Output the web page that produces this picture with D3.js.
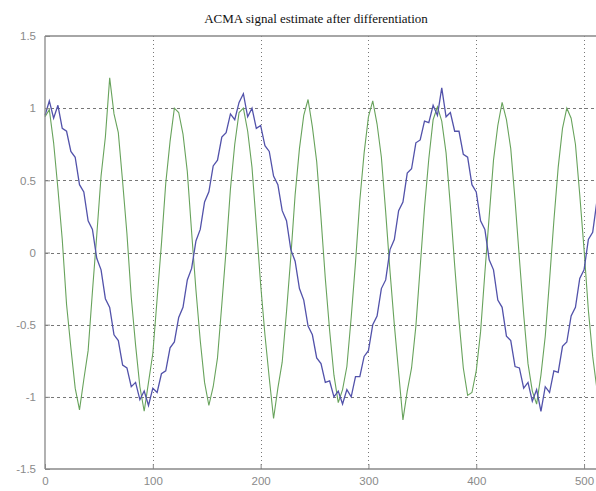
<!DOCTYPE html>
<html>
<head>
<meta charset="utf-8">
<script src="https://cdn.jsdelivr.net/npm/d3@7"></script>
<style>
  body { margin: 0; background: #fff; }
  svg { display: block; }
  .tick-label { font-family: "Liberation Sans", Arial, sans-serif; font-size: 11.5px; fill: #8a8a8a; }
  .title { font-family: "Liberation Serif", "Times New Roman", serif; font-size: 13px; fill: #111; }
</style>
</head>
<body>
<svg id="chart"></svg>
<script>
const TITLE = "ACMA signal estimate after differentiation";
const X_STEP = 4; // samples are read every 4 points along x
const X_TICKS = [0, 100, 200, 300, 400, 500];
const Y_TICKS = [-1.5, -1, -0.5, 0, 0.5, 1, 1.5];
const X_TICK_LABELS = ["0", "100", "200", "300", "400", "500"];
const Y_TICK_LABELS = ["-1.5", "-1", "-0.5", "0", "0.5", "1", "1.5"];

// slow component (blue) at x = 0, 4, 8, ...
const blueValues = [
  0.95, 1.05, 0.93, 1.02, 0.86, 0.84, 0.70, 0.66, 0.47, 0.42,
  0.22, 0.16, -0.04, -0.12, -0.32, -0.38, -0.57, -0.61, -0.78, -0.80,
  -0.93, -0.90, -1.02, -0.96, -1.06, -0.94, -0.97, -0.84, -0.82, -0.66,
  -0.62, -0.45, -0.38, -0.19, -0.11, 0.08, 0.16, 0.35, 0.42, 0.60,
  0.64, 0.80, 0.83, 0.96, 0.92, 1.04, 1.10, 0.94, 1.00, 0.86,
  0.88, 0.74, 0.70, 0.53, 0.47, 0.29, 0.22, 0.02, -0.06, -0.25,
  -0.33, -0.51, -0.57, -0.73, -0.77, -0.90, -0.89, -1.00, -0.96, -1.05,
  -0.95, -1.00, -0.86, -0.86, -0.72, -0.68, -0.50, -0.44, -0.25, -0.19,
  0.02, 0.09, 0.29, 0.35, 0.55, 0.58, 0.76, 0.78, 0.91, 0.90,
  1.02, 0.95, 1.14, 0.94, 0.97, 0.84, 0.84, 0.68, 0.66, 0.47,
  0.42, 0.22, 0.16, -0.05, -0.12, -0.33, -0.38, -0.58, -0.61, -0.79,
  -0.80, -0.94, -0.90, -1.03, -0.95, -1.10, -0.93, -0.97, -0.82, -0.83,
  -0.65, -0.62, -0.44, -0.38, -0.18, -0.12, 0.09, 0.14, 0.36,
];

// fast component (green), same sampling
const greenValues = [
  0.94, 0.99, 0.76, 0.44, 0.09, -0.36, -0.66, -0.94, -1.09, -0.88,
  -0.68, -0.27, 0.12, 0.53, 0.80, 1.21, 0.96, 0.83, 0.49, 0.13,
  -0.31, -0.64, -0.93, -1.10, -0.90, -0.70, -0.32, 0.06, 0.48, 0.77,
  1.00, 0.97, 0.82, 0.56, 0.14, -0.26, -0.61, -0.90, -1.06, -0.93,
  -0.73, -0.36, 0.02, 0.44, 0.75, 0.97, 1.00, 0.84, 0.59, 0.19,
  -0.22, -0.57, -0.87, -1.15, -0.94, -0.76, -0.41, -0.03, 0.40, 0.72,
  0.95, 1.06, 0.87, 0.63, 0.24, -0.18, -0.54, -0.85, -1.04, -0.95,
  -0.79, -0.45, -0.07, 0.36, 0.69, 0.94, 1.05, 0.89, 0.66, 0.28,
  -0.13, -0.50, -0.83, -1.16, -0.96, -0.80, -0.51, -0.10, 0.31, 0.65,
  0.92, 1.01, 0.91, 0.69, 0.32, -0.09, -0.47, -0.80, -0.99, -0.97,
  -0.82, -0.55, -0.14, 0.25, 0.64, 0.88, 1.04, 0.92, 0.72, 0.36,
  -0.04, -0.43, -0.77, -0.96, -1.05, -0.85, -0.58, -0.19, 0.22, 0.59,
  0.86, 1.00, 0.93, 0.75, 0.40, 0.02, -0.40, -0.72, -0.95,
];

const width = 596;
const height = 491;
const margin = { top: 36, right: -1, bottom: 22, left: 45 };

const svg = d3.select("#chart").attr("width", width).attr("height", height);

const x = d3.scaleLinear().domain([0, 512]).range([margin.left, width - margin.right]);
const y = d3.scaleLinear().domain([-1.5, 1.5]).range([height - margin.bottom, margin.top]);

// grid
const grid = svg.append("g").attr("stroke", "#777").attr("stroke-width", 1);
grid.selectAll("line.vgrid")
  .data(X_TICKS.slice(1))
  .join("line")
  .attr("x1", (d) => Math.round(x(d)) + 0.5)
  .attr("x2", (d) => Math.round(x(d)) + 0.5)
  .attr("y1", y(1.5))
  .attr("y2", y(-1.5))
  .attr("stroke-dasharray", "1,3");
grid.selectAll("line.hgrid")
  .data(Y_TICKS.slice(1, -1))
  .join("line")
  .attr("x1", x(0))
  .attr("x2", x(512))
  .attr("y1", (d) => Math.round(y(d)) + 0.5)
  .attr("y2", (d) => Math.round(y(d)) + 0.5)
  .attr("stroke-dasharray", "3,3");

// series
const line = d3.line()
  .x((d, i) => x(i * X_STEP))
  .y((d) => y(d));

svg.append("path")
  .datum(greenValues)
  .attr("fill", "none")
  .attr("stroke", "#68a35c")
  .attr("stroke-width", 1.1)
  .attr("d", line);

svg.append("path")
  .datum(blueValues)
  .attr("fill", "none")
  .attr("stroke", "#5252aa")
  .attr("stroke-width", 1.3)
  .attr("d", line);

// frame
const frame = svg.append("g").attr("stroke", "#888").attr("stroke-width", 1.3).attr("fill", "none");
frame.append("line").attr("x1", x(0)).attr("x2", x(0)).attr("y1", y(1.5)).attr("y2", y(-1.5));
frame.append("line").attr("x1", x(0)).attr("x2", x(512)).attr("y1", y(1.5)).attr("y2", y(1.5));
frame.append("line").attr("x1", x(0)).attr("x2", x(512)).attr("y1", y(-1.5)).attr("y2", y(-1.5));

// ticks
const xAxis = d3.axisBottom(x).tickValues(X_TICKS).tickSize(-5)
  .tickFormat((d, i) => X_TICK_LABELS[i]);
const yAxis = d3.axisLeft(y).tickValues(Y_TICKS).tickSize(-5)
  .tickFormat((d, i) => Y_TICK_LABELS[i]);

const gx = svg.append("g").attr("transform", `translate(0,${y(-1.5)})`).call(xAxis);
const gy = svg.append("g").attr("transform", `translate(${x(0)},0)`).call(yAxis);
[gx, gy].forEach((g) => {
  g.select(".domain").remove();
  g.selectAll(".tick line").attr("stroke", "#888");
  g.selectAll(".tick text").attr("class", "tick-label").attr("fill", null);
});
gx.selectAll(".tick text").attr("dy", "1.1em");
gy.selectAll(".tick text").attr("x", -9).attr("dy", "0.32em");

svg.append("text")
  .attr("class", "title")
  .attr("x", 316)
  .attr("y", 23)
  .attr("text-anchor", "middle")
  .text(TITLE);
</script>
</body>
</html>
